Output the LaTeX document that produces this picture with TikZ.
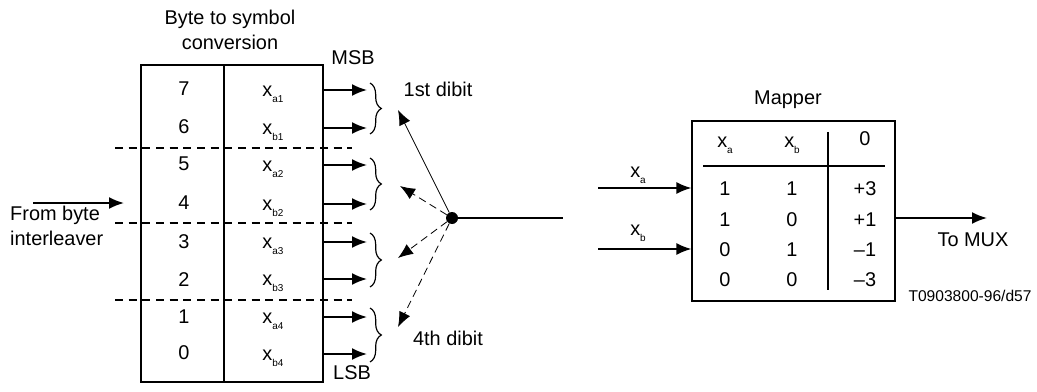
\documentclass[tikz,border=0pt]{standalone}
\usepackage{fontspec}
\setmainfont{Liberation Sans}
\usetikzlibrary{arrows.meta,positioning,decorations.pathreplacing}

\newcommand{\bitx}[1]{x\raisebox{-0.55ex}{\fontsize{8.5}{9}\selectfont #1}}

\begin{document}
\begin{tikzpicture}[x=0.3mm,y=-0.3mm,>={Latex[length=4.5mm,width=3.6mm]},
  txt/.style={font=\fontsize{17}{21}\selectfont, inner sep=0pt},
  small/.style={font=\fontsize{13.3}{16}\selectfont, inner sep=0pt},
  bit/.style={->, line width=1.6pt},
  cut/.style={line width=1.5pt, dash pattern=on 2.4mm off 1.7mm},
  pick/.style={->, line width=0.7pt, dash pattern=on 2.3mm off 1.4mm}]

  \useasboundingbox (0,0) rectangle (1037,392);

  % byte to symbol converter
  \node[draw, line width=0.9pt, minimum width=54.6mm, minimum height=95.1mm, inner sep=0pt] (conv) at (232,223.5) {};
  \draw[line width=1.4pt] (224,65) -- (224,382);
  \node[txt, align=center] (convt) at (230,30) {Byte to symbol\\conversion};
  \node[txt] (msb) at (353,58) {MSB};
  \node[txt] (lsb) at (352,373) {LSB};

  % input
  \coordinate (fromA) at (33,203);
  \coordinate (fromB) at (124,203);
  \draw[bit] (fromA) -- (fromB);
  \node[txt, align=left, anchor=west] (from) at (10,226) {From byte\\interleaver};

  % dibit boundaries
  \foreach \y in {148,223,300}
    \draw[cut] (115,\y) -- (352,\y);

  % bit numbers
  \foreach \n/\y in {7/89,6/127,5/164,4/203,3/242,2/280,1/317,0/353}
    \node[txt] (num\n) at (184,\y) {\n};

  % symbol bits and their outputs
  \foreach \s/\i/\y in {a/1/90,b/1/128,a/2/165,b/2/204,a/3/242,b/3/279,a/4/317,b/4/354} {
    \node[txt] (bit\s\i) at (273,\y+4) {\bitx{\s\i}};
    \coordinate (out\s\i) at (323,\y);
    \coordinate (end\s\i) at (367,\y);
    \draw[bit] (out\s\i) -- (end\s\i);
  }

  % dibit braces
  \foreach \t/\b in {83/134,158/210,233/287,308/362}
    \draw[line width=1pt, decorate, decoration={brace, amplitude=3.4mm}]
      (370,\t) -- (370,\b);

  \node[txt] (first) at (438,89) {1st dibit};
  \node[txt] (fourth) at (448,338) {4th dibit};

  % selector
  \node[circle, fill, inner sep=0pt, minimum size=3.6mm] (hub) at (452,218) {};
  \coordinate (sel1) at (398,110);
  \coordinate (sel2) at (400,186);
  \coordinate (sel3) at (398,258);
  \coordinate (sel4) at (398,327);
  \draw[->, line width=0.7pt] (hub) -- (sel1);
  \foreach \i in {2,3,4}
    \draw[pick] (hub) -- (sel\i);
  \coordinate (hubout) at (563,218);
  \draw[line width=1.6pt] (hub.center) -- (hubout);

  % mapper
  \node[draw, line width=0.9pt, minimum width=60.9mm, minimum height=54mm, inner sep=0pt] (map) at (793.5,211) {};
  \node[txt] (mapt) at (788,100) {Mapper};
  \node[txt] (ha) at (725,145) {\bitx{a}};
  \node[txt] (hb) at (792,145) {\bitx{b}};
  \node[txt] (hz) at (865,139) {0};
  \draw[line width=1.4pt] (703,166) -- (885,166);
  \draw[line width=1.4pt] (828,132) -- (828,290);
  \foreach \a/\b/\v/\y in {1/1/+3/189,1/0/+1/220,0/1/–1/250,0/0/–3/280} {
    \node[txt] at (725,\y) {\a};
    \node[txt] at (792,\y) {\b};
    \node[txt] at (865,\y) {\v};
  }

  % mapper inputs and output
  \coordinate (ina) at (598,188);
  \coordinate (inb) at (598,249);
  \draw[bit] (ina) -- (ina -| map.west);
  \draw[bit] (inb) -- (inb -| map.west);
  \node[txt] (la) at (638,175) {\bitx{a}};
  \node[txt] (lb) at (638,233) {\bitx{b}};
  \coordinate (mux) at (987,218);
  \draw[bit] (mux -| map.east) -- (mux);
  \node[txt] (muxt) at (973,240) {To MUX};
  \node[small] (ref) at (970,296) {T0903800-96/d57};

\end{tikzpicture}
\end{document}
